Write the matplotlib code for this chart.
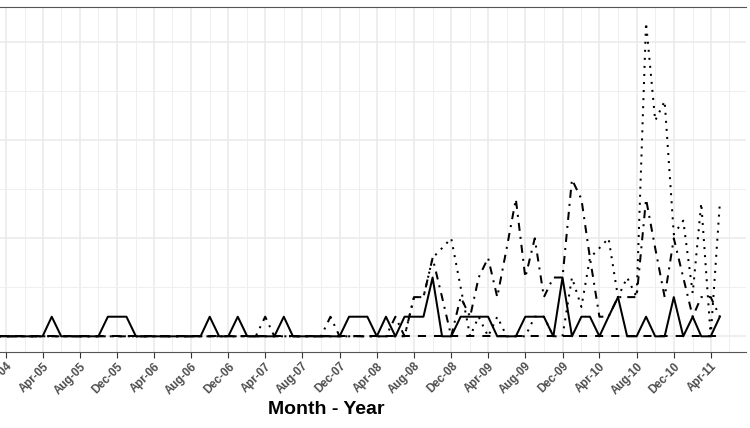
import matplotlib
matplotlib.use("Agg")
import matplotlib.pyplot as plt
import matplotlib.dates as mdates
import pandas as pd
import numpy as np

# Monthly series, Jan-2004 .. May-2011
months = pd.date_range("2004-01-01", "2011-05-01", freq="MS")

solid = [
    0, 0, 0, 0, 0, 0, 0, 0, 0, 0, 0, 0,          # 2004
    0, 0, 0, 0, 1, 0, 0, 0, 0, 0, 1, 1,          # 2005
    1, 0, 0, 0, 0, 0, 0, 0, 0, 1, 0, 0,          # 2006
    1, 0, 0, 0, 0, 1, 0, 0, 0, 0, 0, 0,          # 2007
    1, 1, 1, 0, 1, 0, 1, 1, 1, 3, 0, 0,          # 2008
    1, 1, 1, 1, 0, 0, 0, 1, 1, 1, 0, 3,          # 2009
    0, 1, 1, 0, 1, 2, 0, 0, 1, 0, 0, 2,          # 2010
    0, 1, 0, 0, 1,                               # 2011
]
dashed = [0] * 89
dotdash = [
    0, 0, 0, 0, 0, 0, 0, 0, 0, 0, 0, 0,          # 2004
    0, 0, 0, 0, 0, 0, 0, 0, 0, 0, 0, 0,          # 2005
    0, 0, 0, 0, 0, 0, 0, 0, 0, 0, 0, 0,          # 2006
    0, 0, 0, 1, 0, 0, 0, 0, 0, 0, 1, 0,          # 2007
    0, 0, 0, 0, 0, 1, 0, 2, 2, 4, 2, 0,          # 2008
    2, 1, 3, 4, 2, 4.5, 7, 3, 5, 2, 3, 3,        # 2009
    8, 7, 4, 1, 1, 2, 2, 2, 7, 4.5, 2, 5,        # 2010
    3, 1, 2, 2, 1,                               # 2011
]
dotted = [
    0, 0, 0, 0, 0, 0, 0, 0, 0, 0, 0, 0,          # 2004
    0, 0, 0, 0, 0, 0, 0, 0, 0, 0, 0, 0,          # 2005
    0, 0, 0, 0, 0, 0, 0, 0, 0, 0, 0, 0,          # 2006
    0, 0, 0, 0, 0, 0, 0, 0, 0, 0, 0, 0,          # 2007
    0, 0, 0, 0, 0, 0, 0, 2, 2, 4, 4.5, 5,        # 2008
    2.5, 0, 1, 0, 1, 0, 0, 0, 1, 1, 0, 0,        # 2009
    3, 1.5, 4, 4.5, 5, 2, 3, 2, 16, 11, 12, 5.2, # 2010
    5.9, 2.2, 6.8, 0, 6.8,                       # 2011
]

xlabel = "Month - Year"

fig = plt.figure(figsize=(7.5, 4.28), dpi=100)
ax = fig.add_axes([0, 76 / 428, 746 / 750, 345 / 428])

lw = 1.45
ax.plot(months, dashed, color="black", lw=lw, ls=(0, (4, 4)))
ax.plot(months, dotted, color="black", lw=lw, ls=(0, (1, 3)))
ax.plot(months, dotdash, color="black", lw=lw, ls=(0, (1, 3, 4, 3)))
ax.plot(months, solid, color="black", lw=lw, ls="-")

# x scale: Dec-04 at px 5.7, Apr-11 at px 710.7
ppd = 705.0 / (mdates.date2num(pd.Timestamp("2011-04-01")) - mdates.date2num(pd.Timestamp("2004-12-01")))
x0 = mdates.date2num(pd.Timestamp("2004-12-01")) - 5.7 / ppd
ax.set_xlim(x0, x0 + 746 / ppd)
ax.set_ylim(-0.8, 16.8)

ax.xaxis.set_major_locator(mdates.MonthLocator(bymonth=[4, 8, 12]))
ax.xaxis.set_minor_locator(mdates.MonthLocator(bymonth=[2, 6, 10]))
ax.xaxis.set_major_formatter(mdates.DateFormatter("%b-%y"))
ax.set_yticks([0, 5, 10, 15])
ax.set_yticks([2.5, 7.5, 12.5], minor=True)

ax.grid(which="major", color="#EBEBEB", lw=1.2)
ax.grid(which="minor", color="#EFEFEF", lw=0.7)
ax.set_axisbelow(True)

for s in ["left", "right"]:
    ax.spines[s].set_visible(False)
for s in ["top", "bottom"]:
    ax.spines[s].set_color("#555555")
    ax.spines[s].set_linewidth(0.8)

ax.tick_params(axis="y", which="both", left=False, labelleft=False)
ax.tick_params(axis="x", which="major", length=4, width=0.8, color="#333333",
               labelsize=8.3, labelcolor="#4D4D4D", pad=2)
ax.tick_params(axis="x", which="minor", length=0)
for lab in ax.get_xticklabels():
    lab.set_rotation(45)
    lab.set_ha("right")
    lab.set_va("top")
    lab.set_rotation_mode("anchor")
    lab.set_fontweight("bold")
    lab.set_family("Liberation Sans")

fig.text(326 / 750, 1 - 410 / 428, xlabel, ha="center", va="center",
         fontsize=14, fontweight="bold", family="Liberation Sans")

fig.savefig("out.png", dpi=100)
